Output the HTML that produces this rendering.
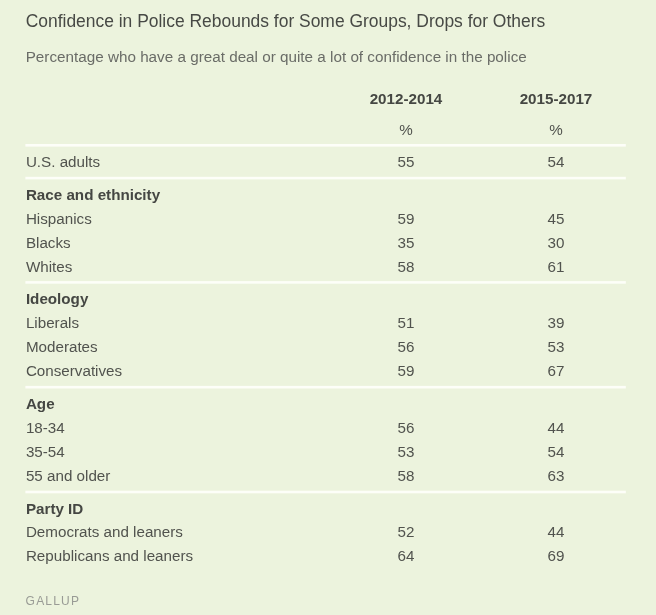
<!DOCTYPE html>
<html><head><meta charset="utf-8">
<style>
html,body{margin:0;padding:0;}
body{width:656px;height:615px;background:#ecf3dd;font-family:"Liberation Sans",sans-serif;color:#51534e;overflow:hidden;position:relative;}
.t{position:absolute;white-space:nowrap;line-height:20px;}
.title{left:25.7px;top:10.5px;font-size:17.45px;color:#474945;}
.sub{left:25.7px;top:47px;font-size:15.26px;color:#6a6c67;}
.l{left:25.9px;font-size:15.2px;}
.b{font-weight:bold;color:#454743;}
.c1,.c2{font-size:15.2px;width:100px;text-align:center;}
.c1{left:356px;}
.c2{left:506px;}
.hr{position:absolute;left:25px;width:601px;height:3px;background:#fbfdf6;}
.g{left:25.6px;top:591.2px;font-size:12px;letter-spacing:1.2px;color:#999b95;}
</style></head><body>
<div class="t title">Confidence in Police Rebounds for Some Groups, Drops for Others</div>
<div class="t sub">Percentage who have a great deal or quite a lot of confidence in the police</div>
<div class="t c1 b" style="top:89px">2012-2014</div><div class="t c2 b" style="top:89px">2015-2017</div>
<div class="t c1" style="top:120px">%</div><div class="t c2" style="top:120px">%</div>
<div class="t l" style="top:152px">U.S. adults</div><div class="t c1" style="top:152px">55</div><div class="t c2" style="top:152px">54</div>
<div class="t l b" style="top:185px">Race and ethnicity</div>
<div class="t l" style="top:209px">Hispanics</div><div class="t c1" style="top:209px">59</div><div class="t c2" style="top:209px">45</div>
<div class="t l" style="top:233px">Blacks</div><div class="t c1" style="top:233px">35</div><div class="t c2" style="top:233px">30</div>
<div class="t l" style="top:257px">Whites</div><div class="t c1" style="top:257px">58</div><div class="t c2" style="top:257px">61</div>
<div class="t l b" style="top:289px">Ideology</div>
<div class="t l" style="top:313px">Liberals</div><div class="t c1" style="top:313px">51</div><div class="t c2" style="top:313px">39</div>
<div class="t l" style="top:337px">Moderates</div><div class="t c1" style="top:337px">56</div><div class="t c2" style="top:337px">53</div>
<div class="t l" style="top:361px">Conservatives</div><div class="t c1" style="top:361px">59</div><div class="t c2" style="top:361px">67</div>
<div class="t l b" style="top:394px">Age</div>
<div class="t l" style="top:418px">18-34</div><div class="t c1" style="top:418px">56</div><div class="t c2" style="top:418px">44</div>
<div class="t l" style="top:442px">35-54</div><div class="t c1" style="top:442px">53</div><div class="t c2" style="top:442px">54</div>
<div class="t l" style="top:466px">55 and older</div><div class="t c1" style="top:466px">58</div><div class="t c2" style="top:466px">63</div>
<div class="t l b" style="top:499px">Party ID</div>
<div class="t l" style="top:522px">Democrats and leaners</div><div class="t c1" style="top:522px">52</div><div class="t c2" style="top:522px">44</div>
<div class="t l" style="top:546px">Republicans and leaners</div><div class="t c1" style="top:546px">64</div><div class="t c2" style="top:546px">69</div>
<svg style="position:absolute;left:0;top:0" width="656" height="615"><rect x="25.4" y="144.0" width="600.4" height="2.6" fill="#fdfef8"/><rect x="25.4" y="176.8" width="600.4" height="2.6" fill="#fdfef8"/><rect x="25.4" y="281.1" width="600.4" height="2.6" fill="#fdfef8"/><rect x="25.4" y="385.9" width="600.4" height="2.6" fill="#fdfef8"/><rect x="25.4" y="490.7" width="600.4" height="2.6" fill="#fdfef8"/></svg>
<div class="t g">GALLUP</div>
</body></html>
